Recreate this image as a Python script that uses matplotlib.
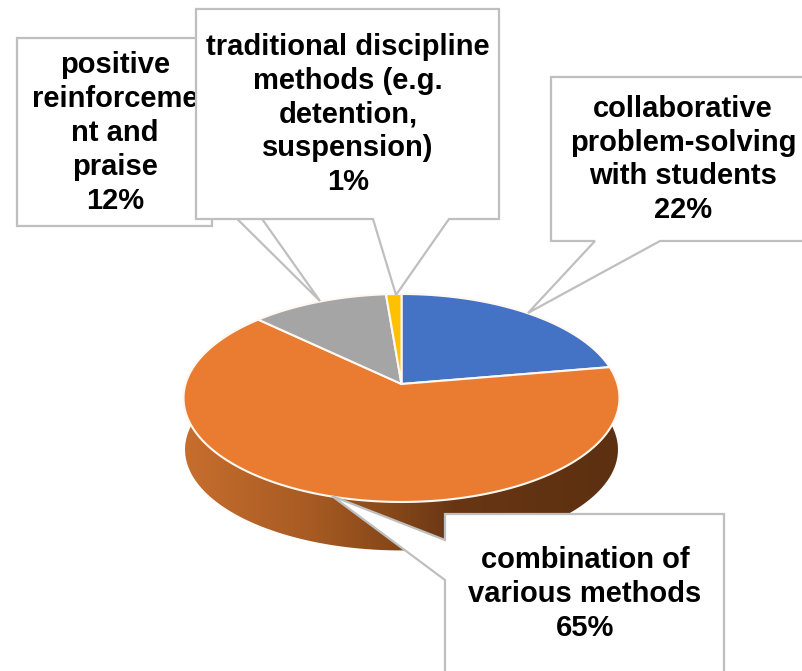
import numpy as np
import matplotlib
matplotlib.use("Agg")
import matplotlib.pyplot as plt
from matplotlib.colors import LinearSegmentedColormap
from matplotlib.patches import Polygon

categories = ["collaborative\nproblem-solving\nwith students",
              "combination of\nvarious methods",
              "positive\nreinforceme\nnt and\npraise",
              "traditional discipline\nmethods (e.g.\ndetention,\nsuspension)"]
values = [22.3, 64.8, 11.6, 1.3]
colors = ["#4472C4", "#EA7C31", "#A5A5A5", "#FFC000"]

plt.rcParams["font.family"] = ["Liberation Sans", "DejaVu Sans"]
W, H = 803, 671
fig = plt.figure(figsize=(W / 100, H / 100), dpi=100, facecolor="white")
ax = fig.add_axes([0, 0, 1, 1])
ax.set_xlim(0, W)
ax.set_ylim(H, 0)
ax.axis("off")

CX, CY, A, B, K, DEPTH = 401.5, 384, 216, 102.1, 0.1346, 52
GREY = "#BFBFBF"


def project(theta, scale=1.0, dy=0.0, yscale=1.0):
    x, y = np.sin(theta), np.cos(theta)
    w = 1 + K * y
    return CX + scale * A * x / w, CY + dy - yscale * B * y / w


def arc(t0, t1, **kw):
    t = np.linspace(t0, t1, 240)
    return np.column_stack(project(t, **kw))


# side wall
t_front = np.linspace(np.pi * 0.46, np.pi * 1.54, 300)
top_edge = np.column_stack(project(t_front))
bot_edge = np.column_stack(project(t_front, scale=0.993, dy=DEPTH, yscale=0.97))
wall = Polygon(np.vstack([top_edge, bot_edge[::-1]]), closed=True, transform=ax.transData,
               facecolor="none", edgecolor="none")
ax.add_patch(wall)
cmap = LinearSegmentedColormap.from_list(
    "wall", [(0, "#C76E2E"), (0.3, "#A65A22"), (0.5, "#824519"), (0.62, "#683614"), (1, "#5C3011")])
grad = ax.imshow(np.linspace(0, 1, 512)[None, :], extent=(183, 620, 560, 400), cmap=cmap,
                 aspect="auto", zorder=1)
grad.set_clip_path(wall)
ax.set_xlim(0, W)
ax.set_ylim(H, 0)

# top face
fractions = np.array(values, dtype=float) / sum(values)
edges = np.concatenate([[0], np.cumsum(fractions)]) * 2 * np.pi
for t0, t1, c in zip(edges[:-1], edges[1:], colors):
    pts = np.vstack([[CX, CY], arc(t0, t1)])
    ax.fill(pts[:, 0], pts[:, 1], facecolor=c, edgecolor="#FFF8F2", linewidth=1.5,
            joinstyle="round", zorder=2)


def callout(pts, z):
    ax.add_patch(Polygon(pts, closed=True, facecolor="white", edgecolor=GREY, linewidth=1.6,
                         joinstyle="miter", zorder=z))


def label(x, y, s, z):
    ax.text(x, y, s, ha="center", va="center", fontsize=21, fontweight="bold", color="black",
            linespacing=1.27, zorder=z)


# callouts, drawn in stacking order
callout([(17, 38), (240, 38), (212, 148), (320, 301), (212, 194), (212, 226), (17, 226)], 3)
label(115, 133, f"{categories[2]}\n{values[2]:.0f}%", 4)
callout([(196, 9), (499, 9), (499, 219), (449, 219), (396, 295), (373, 219), (196, 219)], 5)
label(348, 114.5, f"{categories[3]}\n{values[3]:.0f}%", 6)
callout([(551, 77), (830, 77), (830, 241), (660, 241), (528, 313), (595, 241), (551, 241)], 3)
label(683, 159.5, f"{categories[0]}\n{values[0]:.0f}%", 4)
callout([(445, 514), (724, 514), (724, 700), (445, 700), (445, 580), (332, 496), (445, 540)], 3)
label(585, 594, f"{categories[1]}\n{values[1]:.0f}%", 4)

fig.savefig("out.png", dpi=100, facecolor="white")
